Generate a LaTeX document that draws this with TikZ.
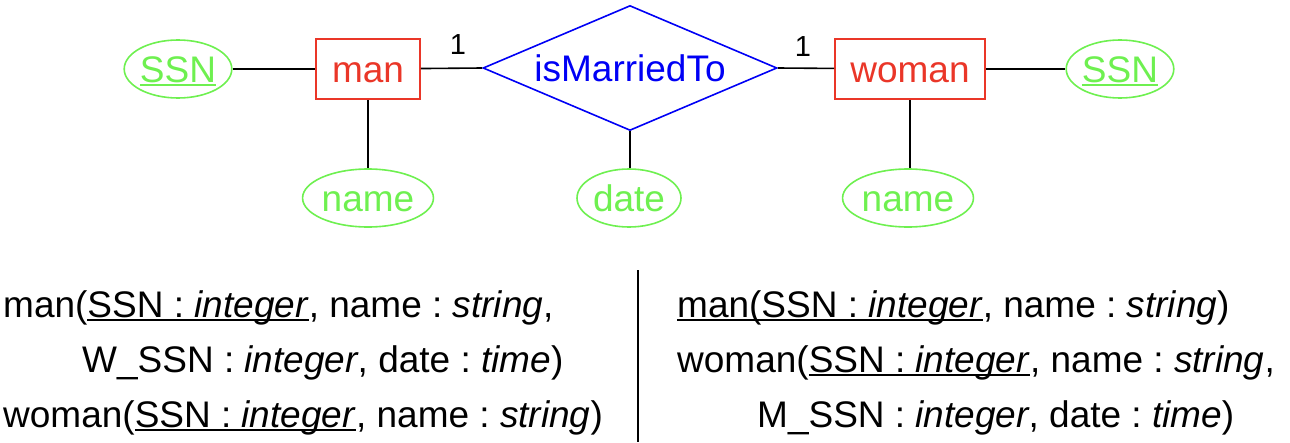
\documentclass[tikz,border=0pt]{standalone}
\usepackage{fontspec}
\setmainfont{Liberation Sans}
\usetikzlibrary{shapes.geometric}
\frenchspacing
\definecolor{entred}{RGB}{234,54,40}
\definecolor{attgreen}{RGB}{110,240,80}
\definecolor{relblue}{RGB}{0,0,245}
\newcommand{\ulx}[1]{\setbox0\hbox{#1}\rlap{\rule[-0.12em]{\wd0}{0.06em}}\box0}
\tikzset{
  shapetext/.style={inner sep=0pt, text height=26pt, text depth=0pt, font=\fontsize{37}{37}\selectfont},
  ent/.style={shapetext, draw=entred, line width=1.6pt, text=entred, rectangle, minimum height=60pt},
  att/.style={shapetext, draw=attgreen, line width=1.6pt, text=attgreen, ellipse, minimum height=58pt},
  rel/.style={shapetext, draw=relblue, line width=1.6pt, text=relblue, diamond, aspect=2.35, minimum width=294pt, minimum height=125pt},
  conn/.style={draw=black, line width=1.6pt},
  card/.style={font=\fontsize{29}{29}\selectfont, inner sep=0pt},
  rtext/.style={anchor=base west, inner sep=0pt, font=\fontsize{37}{37}\selectfont}
}
\begin{document}
\begin{tikzpicture}[x=1pt,y=-1pt]
\useasboundingbox (0,0) rectangle (1290,442);
% entities
\node[ent, minimum width=104pt] (man) at (368,69) {man};
\node[ent, minimum width=150pt] (woman) at (910,69) {woman};
\node[rel] (rel) at (630,68) {isMarriedTo};
% attributes
\node[att, minimum width=107pt] (ssnL) at (178,69) {\ulx{SSN}};
\node[att, minimum width=107pt] (ssnR) at (1120,69) {\ulx{SSN}};
\node[att, minimum width=118pt] (nameL) at (368,198) {name};
\node[att, minimum width=104pt] (date) at (629,198) {date};
\node[att, minimum width=118pt] (nameR) at (908,198) {name};
% connectors
\draw[conn] (ssnL) -- (man);
\draw[conn] (man) -- (rel.west);
\draw[conn] (rel.east) -- (woman);
\draw[conn] (woman) -- (ssnR);
\draw[conn] (man.south) -- (nameL.north -| man.south);
\draw[conn] (rel.south) -- (date.north -| rel.south);
\draw[conn] (woman.south) -- (nameR.north -| woman.south);
% cardinalities
\node[card] (c1) at (458,45) {1};
\node[card] (c2) at (803,47) {1};
% divider
\coordinate (dtop) at (638,270);
\coordinate (dbot) at (638,442);
\draw[line width=1.6pt] (dtop) -- (dbot);
% left schema
\node[rtext] (l1) at (3,317) {man(\ulx{SSN : \textit{integer}}, name : \textit{string},};
\node[rtext] (l2) at (82,372) {W\_SSN : \textit{integer}, date : \textit{time})};
\node[rtext] (l3) at (3,427) {woman(\ulx{SSN : \textit{integer}}, name : \textit{string})};
% right schema
\node[rtext] (r1) at (677,317) {\ulx{man(SSN : \textit{integer}}, name : \textit{string})};
\node[rtext] (r2) at (677,372) {woman(\ulx{SSN : \textit{integer}}, name : \textit{string},};
\node[rtext] (r3) at (757,427) {M\_SSN : \textit{integer}, date : \textit{time})};
\end{tikzpicture}
\end{document}
